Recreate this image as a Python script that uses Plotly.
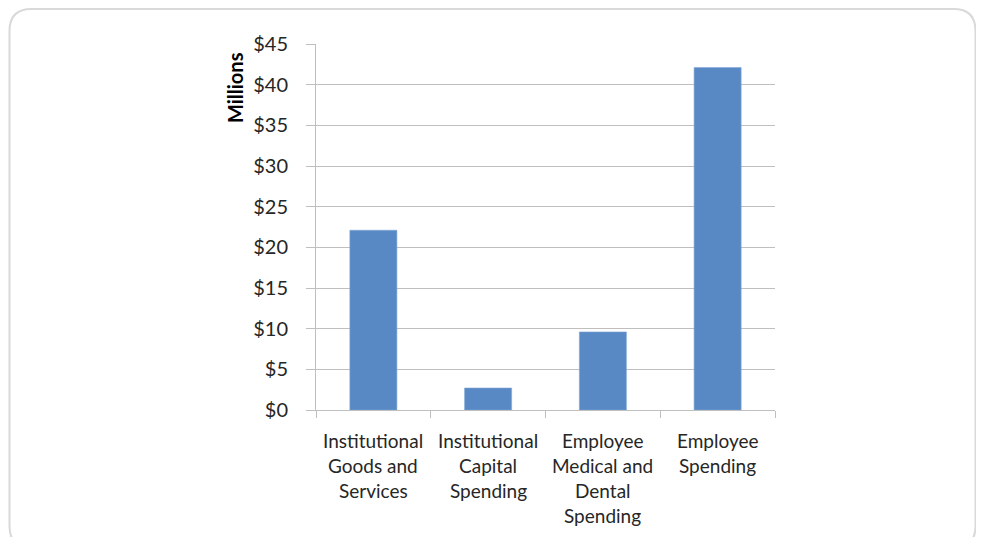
import plotly.graph_objects as go

categories = [
    ["Institutional", "Goods and", "Services"],
    ["Institutional", "Capital", "Spending"],
    ["Employee", "Medical and", "Dental", "Spending"],
    ["Employee", "Spending"],
]
values = [22.1, 2.7, 9.6, 42.1]
y_ticks = [0, 5, 10, 15, 20, 25, 30, 35, 40, 45]
y_tick_labels = ["$" + str(v) for v in y_ticks]
y_title = "Millions"

# page body has an 8px margin; keep the page from overflowing the window
OFF = 8
W, H = 984 - 2 * OFF, 545 - 2 * OFF
L, T = 316 - OFF, 44 - OFF
R = W - (775 - OFF)
B = H - (410 - OFF)
pw, ph = W - L - R, H - T - B

FONT = "Lato"
TXT = "#262626"
GRID = "#BFBFBF"

xs = list(range(len(values)))
fig = go.Figure()
fig.add_trace(go.Bar(
    x=xs, y=values, width=0.41,
    marker=dict(color="#5889C5", line=dict(color="#7FA6D6", width=0.6)),
    hoverinfo="y",
))

# category labels, one annotation per line
for i, lines in enumerate(categories):
    for j, line in enumerate(lines):
        fig.add_annotation(
            x=i, y=0, xref="x", yref="y", text=line, showarrow=False,
            yshift=-(30 + 25.3 * j), yanchor="middle", xanchor="center",
            font=dict(family=FONT, size=19, color=TXT),
        )

def px(xs_):
    return (xs_ - OFF - L) / pw

def py(ys_):
    return (H - B - (ys_ - OFF)) / ph

fig.add_annotation(
    xref="paper", yref="paper", x=px(235), y=py(88),
    text="<b>" + y_title + "</b>", textangle=-90, showarrow=False,
    xanchor="center", yanchor="middle",
    font=dict(family=FONT, size=20, color="#000000"),
)

# rounded border around the chart area (screen coordinates)
x0, x1, y0, y1, r = 9.5, 975.5, 9, 548, 22
path = (
    f"M {px(x0 + r)} {py(y0)} L {px(x1 - r)} {py(y0)} "
    f"Q {px(x1)} {py(y0)} {px(x1)} {py(y0 + r)} "
    f"L {px(x1)} {py(y1 - r)} Q {px(x1)} {py(y1)} {px(x1 - r)} {py(y1)} "
    f"L {px(x0 + r)} {py(y1)} Q {px(x0)} {py(y1)} {px(x0)} {py(y1 - r)} "
    f"L {px(x0)} {py(y0 + r)} Q {px(x0)} {py(y0)} {px(x0 + r)} {py(y0)} Z"
)
fig.add_shape(type="path", xref="paper", yref="paper", path=path,
              line=dict(color="#D9D9D9", width=2), layer="below")

fig.update_layout(
    width=W, height=H,
    margin=dict(l=L, r=R, t=T, b=B, autoexpand=False),
    paper_bgcolor="white", plot_bgcolor="white",
    showlegend=False, bargap=0.59,
    xaxis=dict(
        range=[-0.5, len(values) - 0.5],
        tickvals=[k - 0.5 for k in range(len(values) + 1)],
        showticklabels=False, ticks="outside", ticklen=7, tickcolor=GRID,
        showgrid=False, showline=True, linecolor=GRID, linewidth=1,
        zeroline=False, fixedrange=True,
    ),
    yaxis=dict(
        range=[0, 45], tickmode="array", tickvals=y_ticks,
        ticktext=y_tick_labels,
        ticks="outside", ticklen=9, tickcolor=GRID,
        showgrid=True, gridcolor=GRID, gridwidth=1,
        showline=True, linecolor=GRID, linewidth=1, zeroline=False,
        tickfont=dict(family=FONT, size=20, color=TXT),
        ticklabelstandoff=14, fixedrange=True,
    ),
)

fig.write_html("out.html")
